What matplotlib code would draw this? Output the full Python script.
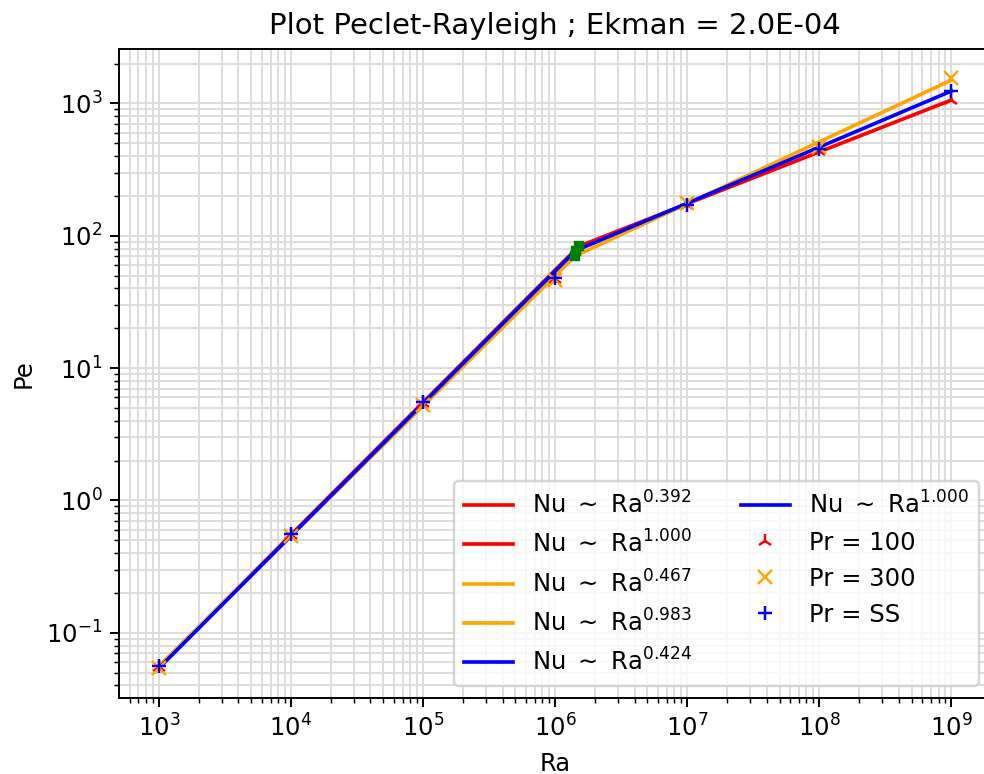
import numpy as np
import matplotlib.pyplot as plt

# Rayleigh numbers of the runs
ra = np.array([1e3, 1e4, 1e5, 1e6, 1e7, 1e8, 1e9])

# Peclet numbers for each Prandtl case
pe_pr100 = np.array([0.055, 0.55, 5.4, 47.0, 170.0, 440.0, 1060.0])
pe_pr300 = np.array([0.054, 0.54, 5.3, 46.0, 178.0, 470.0, 1550.0])
pe_prss = np.array([0.056, 0.56, 5.5, 48.0, 172.0, 450.0, 1230.0])

# Power-law fits: (exponent low, Pe at Ra=1e3), (exponent high, Pe at Ra=1e9)
names = ["100", "300", "SS"]
colors = ["red", "orange", "blue"]
markers = ["2", "x", "+"]
exp_low = [1.000, 0.983, 1.000]
pe_low_ref = [0.055, 0.056, 0.054]
exp_high = [0.392, 0.467, 0.424]
pe_high_ref = [1060.0, 1500.0, 1240.0]
datasets = [pe_pr100, pe_pr300, pe_prss]

fig = plt.figure(figsize=(984 / 175, 774 / 175), dpi=175)
ax = fig.add_axes([0.1212, 0.0986, 0.8859, 0.8385])

crossings = []
for i in range(3):
    # where the two regimes meet
    lr = (np.log10(pe_high_ref[i]) - exp_high[i] * 9 - np.log10(pe_low_ref[i]) + exp_low[i] * 3) / (exp_low[i] - exp_high[i])
    ra_c = 10 ** lr
    pe_c = pe_low_ref[i] * (ra_c / 1e3) ** exp_low[i]
    crossings.append((ra_c, pe_c))

    x_hi = np.array([ra_c, ra[-1]])
    x_lo = np.array([ra[0], ra_c])
    ax.plot(x_hi, pe_high_ref[i] * (x_hi / 1e9) ** exp_high[i], color=colors[i],
            label=r"Nu $\sim$ Ra$^{%.3f}$" % exp_high[i])
    ax.plot(x_lo, pe_low_ref[i] * (x_lo / 1e3) ** exp_low[i], color=colors[i],
            label=r"Nu $\sim$ Ra$^{%.3f}$" % exp_low[i])

for i in range(3):
    ax.plot(ra, datasets[i], linestyle="none", marker=markers[i], color=colors[i],
            label="Pr = " + names[i])

for ra_c, pe_c in crossings:
    ax.plot(ra_c, pe_c, "s", color="green", markersize=3.5)

ax.set_xscale("log")
ax.set_yscale("log")
ax.grid(which="both", color="#dddddd")
ax.set_axisbelow(True)
ax.set_xlabel("Ra")
ax.set_ylabel("Pe")
ax.set_title("Plot Peclet-Rayleigh ; Ekman = 2.0E-04")
ax.legend(loc="lower right", ncol=2)

fig.savefig("out.png", dpi=175)
